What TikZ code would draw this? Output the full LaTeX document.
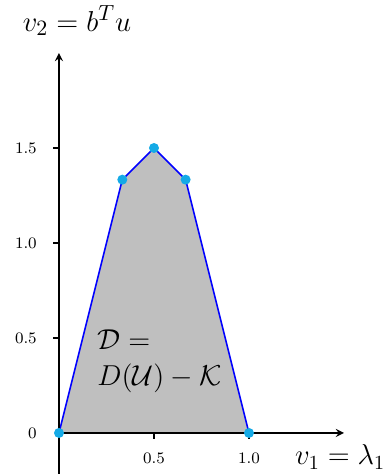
\documentclass[tikz,border=0pt]{standalone}
\usepackage{xcolor}
\usepackage{tikz}
\usetikzlibrary{shapes.geometric, arrows}
\usetikzlibrary{calc,positioning}

\definecolor{dotblue}{RGB}{20,170,230}

\tikzset{
    vertex/.style={circle, fill=dotblue, inner sep=0pt, minimum size=5pt},
    ticklabel/.style={font=\footnotesize},
}

\begin{document}
\begin{tikzpicture}[x=95pt,y=95pt,>=stealth]

    \useasboundingbox (-0.3105,-0.216) rectangle (1.742,2.279);

    % Hoekpunten
    \coordinate (p0) at (0,0);
    \coordinate (p1) at (1/3,4/3);
    \coordinate (p2) at (0.5,1.5);
    \coordinate (p3) at (2/3,4/3);
    \coordinate (p4) at (1,0);

    % Gebied
    \fill[gray!50] (p0) -- (p1) -- (p2) -- (p3) -- (p4) -- cycle;
    \draw[thick, blue] (p0) -- (p1) -- (p2) -- (p3) -- (p4);

    % Assen
    \draw[->, thick] (0,0) -- (1.5,0);
    \draw[->, thick] (0,-0.3) -- (0,2);

    % Ticks
    \foreach \x in {0.5,1.0} {
        \draw[thick] (\x,0) -- (\x,-0.03);
        \node[ticklabel, below] at (\x,-0.07) {\x};
    }
    \foreach \y in {0.5,1.0,1.5} {
        \draw[thick] (0,\y) -- (-0.03,\y);
        \node[ticklabel, left] at (-0.08,\y) {\y};
    }
    \node[ticklabel, left] at (-0.08,0) {0};

    % Labels
    \node[font=\Large] (xlabel) at (1.48,-0.127) {$v_1 = \lambda_1$};
    \node[font=\fontsize{15}{18}\selectfont] (ylabel) at (0.095,2.17) {$v_2 = b^T u$};
    \node[font=\fontsize{15}{18}\selectfont, align=left, anchor=west] (dlabel) at (0.165,0.38)
        {$\mathcal{D} =$\\$D(\mathcal{U}) - \mathcal{K}$};

    % Punten
    \foreach \p in {p0,p1,p2,p3,p4} {
        \node[vertex] at (\p) {};
    }

\end{tikzpicture}
\end{document}
